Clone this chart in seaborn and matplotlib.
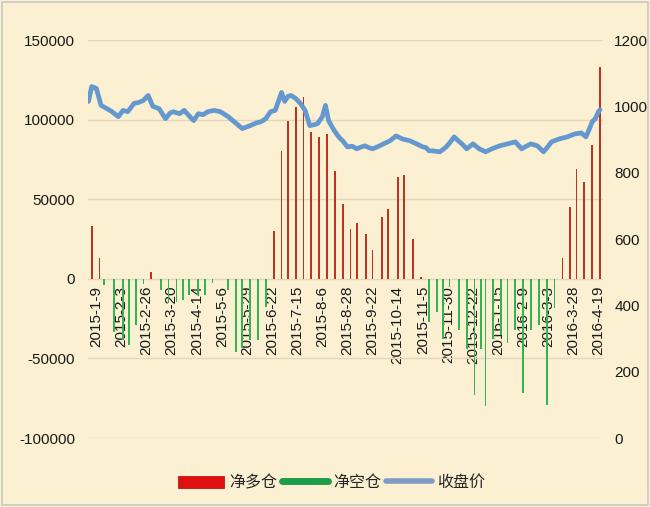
import numpy as np
import pandas as pd
import matplotlib
matplotlib.use("Agg")
import matplotlib.pyplot as plt
from matplotlib.patches import Patch, Rectangle
from matplotlib.lines import Line2D
import seaborn as sns

# ---------------- data ----------------
# x axis: trading-day index (0 = 2015-1-9, one label every 16 trading days)
tick_labels = ["2015-1-9", "2015-2-3", "2015-2-26", "2015-3-20", "2015-4-14",
               "2015-5-6", "2015-5-29", "2015-6-22", "2015-7-15", "2015-8-6",
               "2015-8-28", "2015-9-22", "2015-10-14", "2015-11-5", "2015-11-30",
               "2015-12-22", "2016-1-15", "2016-2-9", "2016-3-3", "2016-3-28",
               "2016-4-19"]
tick_days = [16 * i for i in range(len(tick_labels))]

# net long (净多仓), weekly
long_day = [-3, 2, 35, 113, 118, 122, 127, 132, 137, 142, 147, 152, 157, 162, 166,
            172, 176, 182, 186, 192, 196, 202, 207, 297, 302, 306, 311, 316, 321]
long_val = [33000, 13000, 4500, 30000, 80000, 99000, 108000, 114000, 92000, 89000,
            91000, 68000, 47000, 31000, 35000, 28000, 18000, 39000, 44000, 64000,
            65000, 25000, 1300, 13000, 45000, 69000, 61000, 84000, 133000]

# net short (净空仓), weekly
short_day = [5, 11, 17, 21, 25, 30, 41, 46, 51, 55, 59, 65, 69, 74, 84, 89, 93, 98,
             103, 108, 212, 217, 221, 225, 231, 236, 241, 245, 248, 253, 258, 262,
             267, 272, 277, 282, 287, 292]
short_val = [-4000, -33500, -38600, -41800, -29000, -3000, -7000, -15000, -14500,
             -13000, -10000, -10000, -10000, -2500, -7000, -46000, -43700, -38600,
             -38600, -17700, -27000, -21000, -38000, -5000, -32000, -44000, -73000,
             -44000, -80000, -38000, -35000, -40000, -32000, -72000, -32000, -29000,
             -79000, -18000]

# close price (收盘价)
price_day = [-5, -3, -1, 0, 3, 6, 10, 14, 17, 20, 24, 27, 30, 33, 36, 40, 44, 47, 49,
             53, 56, 59, 62, 65, 68, 71, 75, 79, 84, 87, 90, 93, 98, 102, 105, 108,
             111, 114, 116, 118, 120, 122, 124, 127, 130, 133, 136, 139, 141, 144,
             146, 148, 150, 152, 155, 157, 160, 163, 166, 169, 171, 174, 176, 180,
             183, 187, 191, 195, 200, 204, 208, 210, 212, 214, 219, 223, 226, 228,
             231, 233, 236, 240, 244, 248, 252, 257, 262, 267, 271, 274, 277, 281,
             285, 288, 290, 295, 300, 305, 309, 312, 314, 316, 318, 320, 321]
price_val = [1015, 1060, 1056, 1054, 1003, 995, 984, 969, 988, 984, 1009, 1012, 1018,
             1033, 1000, 993, 963, 980, 984, 978, 988, 972, 957, 978, 975, 984, 988,
             984, 969, 957, 945, 933, 942, 950, 954, 963, 984, 988, 1015, 1042, 1015,
             1030, 1033, 1024, 1009, 988, 942, 945, 948, 969, 1003, 957, 940, 924,
             905, 896, 878, 880, 872, 878, 881, 875, 872, 880, 887, 896, 911, 902,
             896, 887, 878, 876, 866, 866, 863, 878, 895, 908, 895, 887, 872, 887,
             872, 863, 872, 881, 887, 893, 872, 880, 887, 881, 863, 880, 893, 902,
             908, 917, 920, 908, 930, 954, 963, 984, 990]

series_names = ["净多仓", "净空仓", "收盘价"]

# ---------------- style ----------------
BG = "#FCF0D3"
RED = "#BE3220"
GREEN = "#33B452"
BLUE = "#6498CF"
TXT = "#1A1A1A"

sns.set_style("white")
plt.rcParams["font.family"] = ["Liberation Sans", "Noto Sans CJK SC", "DejaVu Sans"]

fig = plt.figure(figsize=(6.5, 5.07), dpi=100, facecolor=BG)
ax = fig.add_axes([0.135, 0.136, 0.793, 0.785])
ax.set_facecolor(BG)

long_df = pd.DataFrame({"day": long_day, "val": long_val})
short_df = pd.DataFrame({"day": short_day, "val": short_val})
price_df = pd.DataFrame({"day": price_day, "price": price_val})

bar_days = 1.15  # bar width in trading days
w_long = bar_days / np.diff(np.unique(long_day)).min()
w_short = bar_days / np.diff(np.unique(short_day)).min()

sns.barplot(data=long_df, x="day", y="val", native_scale=True, color=RED,
            saturation=1, errorbar=None, width=w_long, ax=ax, linewidth=0)
sns.barplot(data=short_df, x="day", y="val", native_scale=True, color=GREEN,
            saturation=1, errorbar=None, width=w_short, ax=ax, linewidth=0)

ax.set_xlim(-5.5, 323)
ax.set_ylim(-100000, 150000)
ax.set_yticks(np.arange(-100000, 150001, 50000))
ax.set_yticklabels([f"{v:d}" for v in np.arange(-100000, 150001, 50000)])
ax.set_axisbelow(True)
ax.grid(axis="y", color="#E2D7BB", lw=1)
ax.grid(axis="x", visible=False)
for s in ax.spines.values():
    s.set_visible(False)
ax.spines["bottom"].set_position(("data", 0))
ax.set_xticks(tick_days)
ax.set_xticklabels(tick_labels, rotation=90, fontsize=11, color=TXT)
ax.tick_params(axis="x", length=0, pad=5)
ax.tick_params(axis="y", length=0, pad=9, labelsize=11, labelcolor=TXT)
ax.set_xlabel("")
ax.set_ylabel("")

ax2 = ax.twinx()
sns.lineplot(data=price_df, x="day", y="price", ax=ax2, color=BLUE, lw=3.4,
             solid_capstyle="round", solid_joinstyle="round")
ax2.set_ylim(0, 1200)
ax2.set_yticks(np.arange(0, 1201, 200))
ax2.tick_params(axis="y", length=0, pad=8, labelsize=11, labelcolor=TXT)
ax2.set_xlim(-5.5, 323)
for s in ax2.spines.values():
    s.set_visible(False)
ax2.grid(False)
ax2.set_xlabel("")
ax2.set_ylabel("")

handles = [Patch(facecolor="#E01010", edgecolor="#B00000", lw=0.5),
           Line2D([], [], color="#1E9E48", lw=5, solid_capstyle="round"),
           Line2D([], [], color="#7F9CC4", lw=4, solid_capstyle="round")]
fig.legend(handles, series_names, loc="center", bbox_to_anchor=(0.51, 0.048),
           ncol=3, frameon=False, handlelength=2.9, handleheight=0.8,
           columnspacing=0.3, handletextpad=0.3,
           prop={"family": ["Noto Sans CJK SC", "DejaVu Sans"], "size": 11.5})

fig.patches.append(Rectangle((0.003, 0.003), 0.994, 0.994, transform=fig.transFigure,
                             fill=False, edgecolor="#C8C8C8", lw=1.2))

fig.savefig("out.png", dpi=100, facecolor=BG)
